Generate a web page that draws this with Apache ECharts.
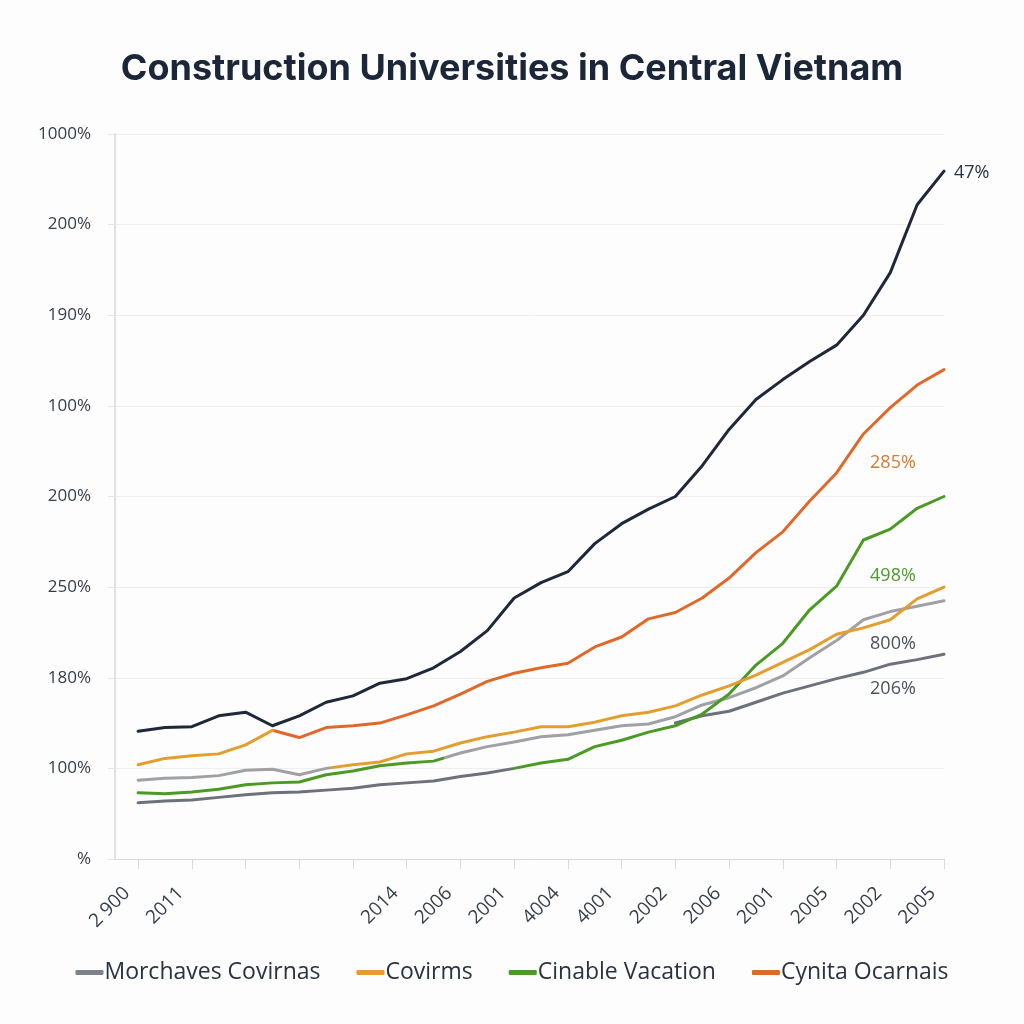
<!DOCTYPE html>
<html>
<head>
<meta charset="utf-8">
<script src="https://cdn.jsdelivr.net/npm/echarts@6/dist/echarts.min.js"></script>
<style>
html,body{margin:0;padding:0;background:#fdfdfd;}
#chart{width:1024px;height:1024px;}
</style>
</head>
<body>
<div id="chart"></div>
<script>
// ---- data ----
const xLabels = ['2 900','2011','','','','2014','2006','2001','4004','4001','2002','2006','2001','2005','2002','2005'];
const yLabels = ['%','100%','180%','250%','200%','100%','190%','200%','1000%'];
const seriesNames = ['Morchaves Covirnas','Covirms','Cinable Vacation','Cynita Ocarnais'];

const navyValues = [1.41,1.45,1.46,1.58,1.62,1.47,1.58,1.73,1.80,1.94,1.99,2.11,2.29,2.52,2.88,3.05,3.17,3.48,3.70,3.86,4.00,4.34,4.74,5.07,5.29,5.49,5.67,6.00,6.47,7.22,7.59];
const cynitaValues = [1.04,1.11,1.14,1.16,1.26,1.42,1.34,1.45,1.47,1.50,1.59,1.69,1.82,1.96,2.05,2.11,2.16,2.34,2.45,2.65,2.72,2.88,3.10,3.38,3.61,3.95,4.26,4.69,4.98,5.23,5.40];
const covirmsValues = [0.87,0.89,0.90,0.92,0.98,0.99,0.93,1.00,1.04,1.07,1.16,1.19,1.28,1.35,1.40,1.46,1.46,1.51,1.58,1.62,1.69,1.81,1.91,2.03,2.17,2.31,2.48,2.55,2.64,2.87,3.00];
const morchavesValues = [0.73,0.72,0.74,0.77,0.82,0.84,0.85,0.93,0.97,1.03,1.06,1.08,1.17,1.24,1.29,1.35,1.37,1.42,1.47,1.49,1.57,1.70,1.78,1.89,2.02,2.22,2.41,2.64,2.73,2.79,2.85];
const cinableValues = [0.62,0.64,0.65,0.68,0.71,0.73,0.74,0.76,0.78,0.82,0.84,0.86,0.91,0.95,1.00,1.06,1.10,1.24,1.31,1.40,1.47,1.60,1.82,2.14,2.38,2.75,3.01,3.52,3.64,3.87,4.00];
const slateValues = [null,null,null,null,null,null,null,null,null,null,null,null,null,null,null,null,null,null,null,null,1.50,1.58,1.63,1.73,1.83,1.91,1.99,2.06,2.15,2.20,2.26];
const endLabels = ['47%','285%','498%','800%','206%'];

// ---- build ----
const step = 0.5;
function pts(arr){
  const out = [];
  arr.forEach((v,i)=>{ if(v!==null) out.push([i*step, v]); });
  return out;
}
function grad(c1, off, c2){
  return {type:'linear',x:0,y:0,x2:1,y2:0,colorStops:[
    {offset:0,color:c1},{offset:off,color:c1},{offset:off+0.001,color:c2},{offset:1,color:c2}]};
}
const C = {
  navy:'#1e2839', orange:'#e0692a', gold:'#e49d2f', green:'#4b9a23',
  lgray:'#9fa1a6', dgray:'#6c717b'
};
const textColor = '#363d4a';
const FONT = '"Open Sans", Lato, sans-serif';

function annot(text, x, y, color){
  return {coord:[x,y], value:text, symbol:'circle', symbolSize:1,
    itemStyle:{color:'rgba(0,0,0,0)'},
    label:{show:true, position:'inside', formatter:text, color:color,
      fontSize:18, fontFamily:FONT, fontWeight:500}};
}

const baseLine = (name, data, lineColor, solid, z, extra) => Object.assign({
  name, type:'line', data, showSymbol:false, symbol:'none', smooth:false, z,
  itemStyle:{color:solid},
  lineStyle:{color:lineColor, width:3, cap:'round', join:'round'},
  emphasis:{disabled:true}, animation:false
}, extra||{});

const series = [
  baseLine('Baseline', pts(slateValues), C.dgray, C.dgray, 2, {
    markPoint:{silent:true, animation:false, data:[
      annot(endLabels[3], 14.05, 2.37, '#4a505c'),
      annot(endLabels[4], 14.05, 1.88, '#4a505c')
    ]}
  }),
  baseLine(seriesNames[0], pts(morchavesValues), grad(C.green,0.38,C.lgray), C.lgray, 3),
  baseLine(seriesNames[2], pts(cinableValues), grad(C.dgray,0.465,C.green), C.green, 4, {
    markPoint:{silent:true, animation:false, data:[annot(endLabels[2], 14.05, 3.12, '#4c9a2a')]}
  }),
  baseLine(seriesNames[1], pts(covirmsValues), grad(C.lgray,0.24,C.gold), C.gold, 5),
  baseLine(seriesNames[3], pts(cynitaValues), grad(C.gold,0.17,C.orange), C.orange, 6, {
    markPoint:{silent:true, animation:false, data:[annot(endLabels[1], 14.05, 4.37, '#d9782e')]}
  }),
  baseLine('Trend', pts(navyValues), C.navy, C.navy, 7, {
    endLabel:{show:true, formatter:endLabels[0], color:'#2a3344', fontSize:18,
      fontFamily:FONT, distance:10, offset:[0,2]}
  })
];

const chart = echarts.init(document.getElementById('chart'), null, {renderer:'canvas'});
chart.setOption({
  backgroundColor:'#fdfdfd',
  animation:false,
  title:{
    text:'Construction Universities in Central Vietnam',
    left:'center', top:46,
    textStyle:{fontFamily:'Inter, "Open Sans", sans-serif', fontWeight:700, fontSize:36, color:'#1b2638'}
  },
  grid:{left:115, right:80, top:134, bottom:165, containLabel:false},
  legend:{
    top:956, left:'center',
    icon:'roundRect', itemWidth:28, itemHeight:5, itemGap:36,
    textStyle:{fontFamily:FONT, fontSize:23, color:'#2a3140', padding:[0,0,0,-4]},
    data:[
      {name:seriesNames[0], itemStyle:{color:'#7e828c'}},
      {name:seriesNames[1], itemStyle:{color:C.gold}},
      {name:seriesNames[2], itemStyle:{color:C.green}},
      {name:seriesNames[3], itemStyle:{color:C.orange}}
    ]
  },
  xAxis:{
    type:'value', min:-0.43, max:15,
    axisLine:{show:true, onZero:false, lineStyle:{color:'#d9d9d9', width:1}},
    axisTick:{show:true, length:10, customValues:xLabels.map((_,i)=>i), lineStyle:{color:'#d9d9d9'}},
    axisLabel:{show:true, customValues:xLabels.map((_,i)=>i), rotate:45, margin:20,
      padding:[0,16,0,0],
      formatter:(v)=>xLabels[Math.round(v)] || '',
      fontFamily:FONT, fontSize:19, color:textColor},
    splitLine:{show:false}
  },
  yAxis:{
    type:'value', min:0, max:8, interval:1,
    axisLine:{show:true, onZero:false, lineStyle:{color:'#e2e2e2', width:2}},
    axisTick:{show:true, length:7, lineStyle:{color:'#e6e6e6'}},
    axisLabel:{margin:24, formatter:(v)=>yLabels[Math.round(v)],
      fontFamily:FONT, fontSize:17, color:textColor},
    splitLine:{show:true, lineStyle:{color:'#efefef', width:1}}
  },
  series
});
</script>
</body>
</html>
